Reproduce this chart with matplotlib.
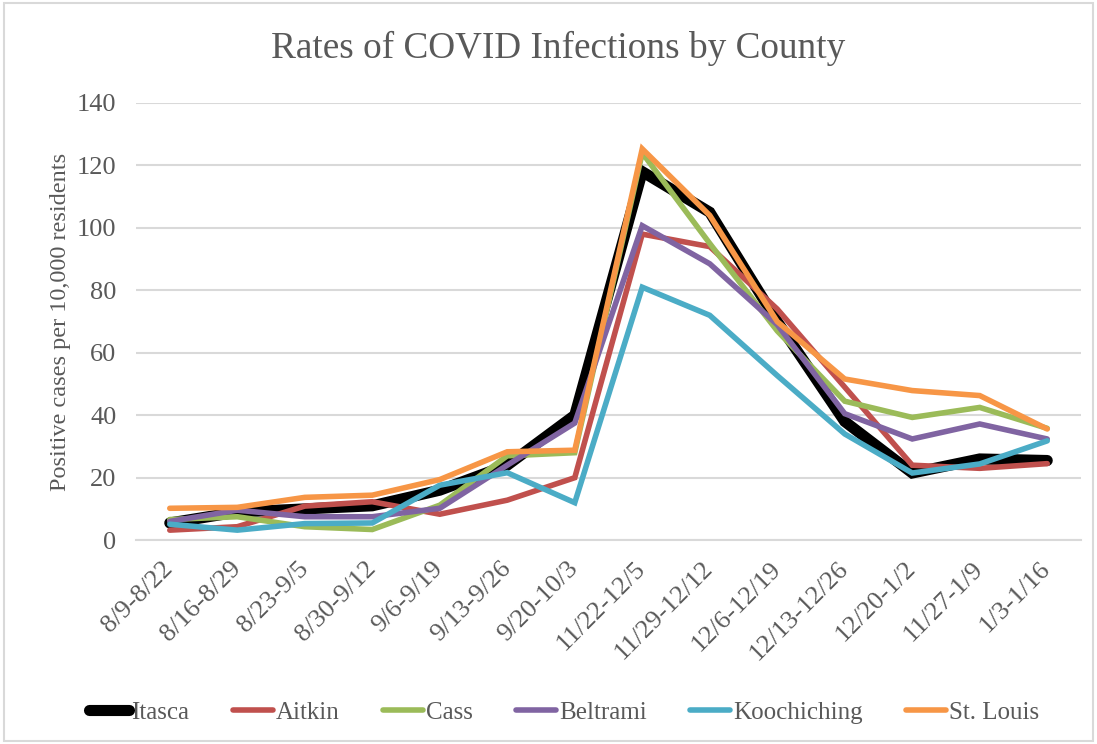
import matplotlib
matplotlib.use('Agg')
import matplotlib.pyplot as plt
from matplotlib.patches import Rectangle

weeks = ['8/9-8/22', '8/16-8/29', '8/23-9/5', '8/30-9/12', '9/6-9/19', '9/13-9/26',
         '9/20-10/3', '11/22-12/5', '11/29-12/12', '12/6-12/19', '12/13-12/26',
         '12/20-1/2', '11/27-1/9', '1/3-1/16']

itasca = [5.5, 9, 10, 11, 16, 24, 40, 118, 105, 70, 38, 21.5, 26, 25.5]
aitkin = [3.2, 4.3, 10.9, 12.3, 8.3, 12.8, 20, 98, 94, 74, 49, 24, 23, 24.5]
cass = [6.6, 7.5, 4.3, 3.4, 11.2, 27, 28, 124, 95, 67, 44.5, 39.3, 42.5, 35.8]
beltrami = [6, 9.6, 7.5, 7.5, 10.2, 24, 37.5, 100.7, 88.5, 69, 40.5, 32.4, 37.2, 32.4]
koochiching = [5.1, 3.2, 5.3, 5.5, 17.6, 21.6, 12, 81, 72, 52.7, 34, 21.5, 24.4, 31.8]
st_louis = [10.2, 10.5, 13.7, 14.4, 19.4, 28.3, 28.8, 125.3, 104, 70, 51.6, 47.9, 46.3, 35.6]

series = [('Itasca', itasca, 'black', 8),
          ('Aitkin', aitkin, '#C0504D', 4),
          ('Cass', cass, '#9BBB59', 4),
          ('Beltrami', beltrami, '#8064A2', 4),
          ('Koochiching', koochiching, '#4BACC6', 4),
          ('St. Louis', st_louis, '#F79646', 4)]

txt = '#595959'
plt.rcParams['font.family'] = 'Liberation Serif'

fig = plt.figure(figsize=(10.97, 7.44), dpi=100)
ax = fig.add_axes([0.124, 0.274, 0.8614, 0.5876])

x = list(range(len(weeks)))
for name, vals, col, lw in series:
    ax.plot(x, vals, color=col, lw=lw, label=name, solid_capstyle='round',
            solid_joinstyle='miter')

ax.set_xlim(-0.5, len(weeks) - 0.5)
ax.set_ylim(0, 140)
ax.set_yticks(range(0, 141, 20))
ax.yaxis.grid(True, color='#D9D9D9', lw=1.5)
ax.set_axisbelow(True)
for s in ['top', 'right', 'left']:
    ax.spines[s].set_visible(False)
ax.spines['bottom'].set_color('#D9D9D9')
ax.spines['bottom'].set_linewidth(1.5)
ax.tick_params(axis='both', length=0, colors=txt, labelsize=19)
ax.tick_params(axis='y', pad=14)
ax.set_xticks(x)
ax.set_xticklabels(weeks, rotation=45, ha='right', va='center', rotation_mode='anchor')
ax.tick_params(axis='x', pad=18)

ax.set_ylabel('Positive cases per 10,000 residents', color=txt, fontsize=17.5, labelpad=4)
fig.text(0.509, 0.935, 'Rates of COVID Infections by County', ha='center', va='center',
         color=txt, fontsize=26.8)

leg = fig.legend(loc='center', bbox_to_anchor=(0.514, 0.042), ncol=6, frameon=False,
                 fontsize=18, handlelength=1.6, handletextpad=0.1, columnspacing=1.75,
                 labelcolor=txt)

fig.patches.append(Rectangle((0.004, 0.004), 0.992, 0.992, transform=fig.transFigure,
                             fill=False, edgecolor='#D9D9D9', lw=1.5))

fig.savefig('out.png', dpi=100, facecolor='white')
